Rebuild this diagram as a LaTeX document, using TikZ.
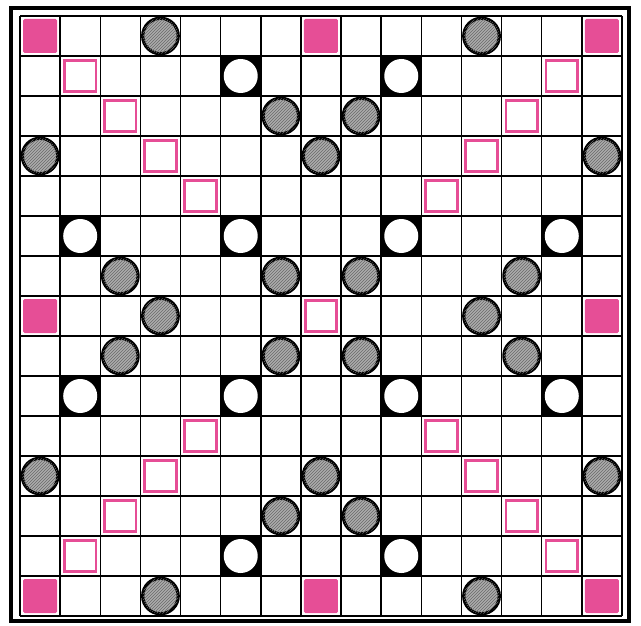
\documentclass[tikz,border=0pt]{standalone}
\usetikzlibrary{patterns}
\definecolor{pinkc}{RGB}{230,78,150}
\definecolor{grayc}{RGB}{172,172,172}
\definecolor{hatchc}{RGB}{105,105,105}
\tikzset{
  gridline/.style={line width=1.5pt, black},
  tw/.style={rectangle, fill=pinkc, draw=none, minimum size=34pt, inner sep=0pt, rounded corners=1.5pt},
  dw/.style={rectangle, draw=pinkc, line width=2.8pt, fill=white, minimum size=31.5pt, inner sep=0pt},
  dl/.style={circle, draw=black, line width=3.3pt, fill=grayc, minimum size=35.5pt, inner sep=0pt,
    postaction={pattern=north east lines, pattern color=hatchc}},
  tlsq/.style={rectangle, fill=black, draw=none, minimum width=40.13pt, minimum height=40pt, inner sep=0pt},
  tl/.style={circle, fill=white, draw=none, minimum size=34pt, inner sep=0pt},
  frame/.style={line width=4.2pt, black}
}
\begin{document}
\begin{tikzpicture}[x=1pt,y=-1pt]
\useasboundingbox (0,0) rectangle (641,626);
\fill[white] (0,0) rectangle (641,626);
% triple-letter black cells
\foreach \c/\r in {5/1,9/1,1/5,5/5,9/5,13/5,1/9,5/9,9/9,13/9,5/13,9/13}
  \node[tlsq] (bk-\c-\r) at ({20+(\c+0.5)*40.133},{16+(\r+0.5)*40}) {};
% grid
\foreach \i in {0,...,15} {
  \draw[gridline] ({20+\i*40.133},16) -- ({20+\i*40.133},616);
  \draw[gridline] (20,{16+\i*40}) -- (622,{16+\i*40});
}
% triple-letter white circles
\foreach \c/\r in {5/1,9/1,1/5,5/5,9/5,13/5,1/9,5/9,9/9,13/9,5/13,9/13}
  \node[tl] (tl-\c-\r) at ({20+(\c+0.5)*40.133},{16+(\r+0.5)*40}) {};
% double-letter grey circles
\foreach \c/\r in {3/0,11/0,6/2,8/2,0/3,7/3,14/3,2/6,6/6,8/6,12/6,3/7,11/7,2/8,6/8,8/8,12/8,0/11,7/11,14/11,6/12,8/12,3/14,11/14}
  \node[dl] (dl-\c-\r) at ({20+(\c+0.5)*40.133},{16+(\r+0.5)*40}) {};
% double-word pink outlines
\foreach \c/\r in {1/1,2/2,3/3,4/4,13/1,12/2,11/3,10/4,1/13,2/12,3/11,4/10,13/13,12/12,11/11,10/10,7/7}
  \node[dw] (dw-\c-\r) at ({20+(\c+0.5)*40.133},{16+(\r+0.5)*40}) {};
% triple-word pink squares
\foreach \c/\r in {0/0,7/0,14/0,0/7,14/7,0/14,7/14,14/14}
  \node[tw] (tw-\c-\r) at ({20+(\c+0.5)*40.133},{16+(\r+0.5)*40}) {};
% outer frame
\draw[frame] (11,8) rectangle (629,621);
\end{tikzpicture}
\end{document}
